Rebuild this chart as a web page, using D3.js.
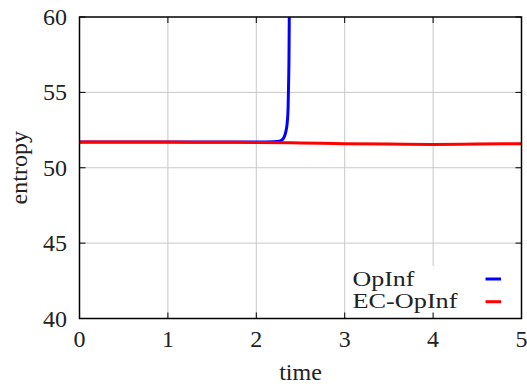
<!DOCTYPE html>
<html>
<head>
<meta charset="utf-8">
<script src="https://cdn.jsdelivr.net/npm/d3@7"></script>
<style>
  html, body { margin: 0; padding: 0; background: #fff; }
  svg { display: block; }
  text { font-family: "Liberation Serif", "DejaVu Serif", serif; fill: #222; }
</style>
</head>
<body>
<svg id="chart" width="527" height="387"></svg>
<script>
// Entropy over time for the two reduced models
const opinfTime  = [0, 1, 2, 2.2, 2.26, 2.29, 2.31, 2.33, 2.35, 2.36, 2.365, 2.37, 2.373, 2.376];
const opinfValue = [51.7, 51.7, 51.7, 51.72, 51.76, 51.85, 51.98, 52.3, 53.0, 54.0, 55.5, 57.5, 60, 63];

const ecTime  = [0, 0.5, 1, 1.5, 2, 2.5, 3, 3.5, 4, 4.5, 5];
const ecValue = [51.7, 51.7, 51.7, 51.69, 51.68, 51.65, 51.6, 51.57, 51.55, 51.57, 51.6];

const xTicks = [0, 1, 2, 3, 4, 5];
const yTicks = [40, 45, 50, 55, 60];

const seriesNames  = ["OpInf", "EC-OpInf"];
const seriesColors = ["#0000ff", "#ff0000"];

const svg = d3.select("#chart");
const m = { left: 79.5, right: 521.5, top: 17, bottom: 318.5 };

const x = d3.scaleLinear().domain([0, 5]).range([m.left, m.right]);
const y = d3.scaleLinear().domain([40, 60]).range([m.bottom, m.top]);

// grid
const grid = svg.append("g").attr("stroke", "#c8c8c8").attr("stroke-width", 1);
xTicks.slice(1, -1).forEach(t => grid.append("line")
  .attr("x1", x(t)).attr("x2", x(t)).attr("y1", m.top).attr("y2", m.bottom));
yTicks.slice(1, -1).forEach(t => grid.append("line")
  .attr("x1", m.left).attr("x2", m.right).attr("y1", y(t)).attr("y2", y(t)));

// legend box (opaque, hides grid behind it)
svg.append("rect")
  .attr("x", 350).attr("y", 266).attr("width", m.right - 350).attr("height", m.bottom - 266)
  .attr("fill", "#fff");

// inward ticks on all four sides
const tickLen = 6;
const ticks = svg.append("g").attr("stroke", "#000").attr("stroke-width", 1);
xTicks.forEach(t => {
  ticks.append("line").attr("x1", x(t)).attr("x2", x(t)).attr("y1", m.bottom).attr("y2", m.bottom - tickLen);
  ticks.append("line").attr("x1", x(t)).attr("x2", x(t)).attr("y1", m.top).attr("y2", m.top + tickLen);
});
yTicks.forEach(t => {
  ticks.append("line").attr("x1", m.left).attr("x2", m.left + tickLen).attr("y1", y(t)).attr("y2", y(t));
  ticks.append("line").attr("x1", m.right).attr("x2", m.right - tickLen).attr("y1", y(t)).attr("y2", y(t));
});

// clip to plot area
svg.append("clipPath").attr("id", "plotClip").append("rect")
  .attr("x", m.left).attr("y", m.top).attr("width", m.right - m.left).attr("height", m.bottom - m.top);

const line = d3.line().x(d => x(d[0])).y(d => y(d[1])).curve(d3.curveMonotoneX);
const lines = svg.append("g").attr("clip-path", "url(#plotClip)").attr("fill", "none")
  .attr("stroke-width", 3).attr("stroke-linejoin", "round");

// OpInf first, EC-OpInf drawn over it
lines.append("path")
  .datum(opinfTime.map((t, i) => [t, opinfValue[i]]))
  .attr("stroke", seriesColors[0]).attr("d", line);
lines.append("path")
  .datum(ecTime.map((t, i) => [t, ecValue[i]]))
  .attr("stroke", seriesColors[1]).attr("d", line);

// frame
svg.append("rect")
  .attr("x", m.left).attr("y", m.top).attr("width", m.right - m.left).attr("height", m.bottom - m.top)
  .attr("fill", "none").attr("stroke", "#000").attr("stroke-width", 1.5);

// tick labels
const fs = 24;
xTicks.forEach(t => svg.append("text")
  .attr("x", x(t)).attr("y", 347).attr("text-anchor", "middle")
  .attr("font-size", fs).text(t));
yTicks.forEach(t => svg.append("text")
  .attr("x", 67).attr("y", y(t) + 8).attr("text-anchor", "end")
  .attr("font-size", fs).text(t));

// axis titles
svg.append("text").attr("x", x(2.5)).attr("y", 380).attr("text-anchor", "middle")
  .attr("font-size", fs).text("time");
svg.append("text").attr("transform", `translate(27,${(m.top + m.bottom) / 2}) rotate(-90)`)
  .attr("text-anchor", "middle").attr("font-size", fs).text("entropy");

// legend
const legendWidths = [62, 105];
seriesNames.forEach((name, i) => {
  const yy = 279 + i * 22.7;
  svg.append("text").attr("x", 352.5).attr("y", yy + 6.5).attr("font-size", 21)
    .attr("textLength", legendWidths[i]).attr("lengthAdjust", "spacingAndGlyphs").text(name);
  svg.append("line").attr("x1", 485.5).attr("x2", 501).attr("y1", yy).attr("y2", yy)
    .attr("stroke", seriesColors[i]).attr("stroke-width", 3);
});
</script>
</body>
</html>
